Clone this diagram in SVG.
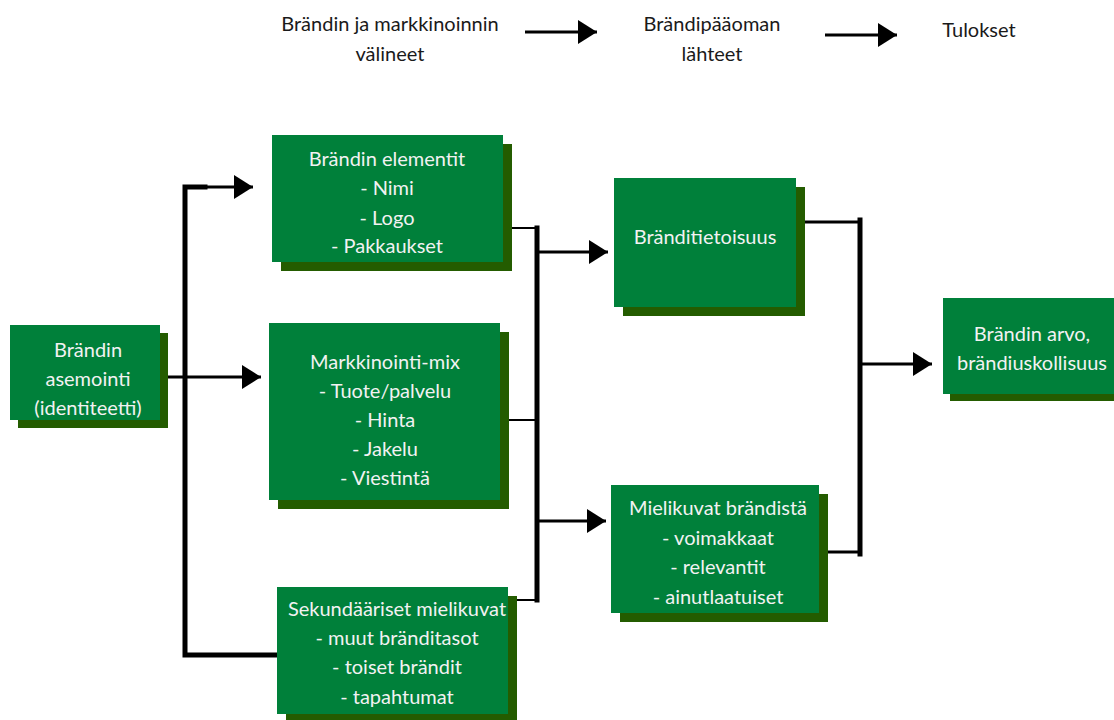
<svg xmlns="http://www.w3.org/2000/svg" width="1114" height="720" viewBox="0 0 1114 720">
  <style>
    .box { fill: #00803a; }
    .shadow { fill: #245c00; }
    .label { font-family: Lato, "Open Sans", sans-serif; font-size: 20px; fill: #f2f2f2; text-anchor: middle; }
    .head { font-family: Lato, "Open Sans", sans-serif; font-size: 20px; fill: #1a1a1a; text-anchor: middle; }
    .bus { stroke: #000; stroke-width: 5; fill: none; stroke-linecap: square; }
    .link { stroke: #000; stroke-width: 3; fill: none; }
    .stub { stroke: #000; stroke-width: 2; fill: none; }
  </style>
  <defs>
    <marker id="arrow" markerUnits="userSpaceOnUse" markerWidth="20" markerHeight="24" refX="19" refY="12" orient="auto">
      <path d="M0,0 L19,12 L0,24 Z" fill="#000"/>
    </marker>
  </defs>

  <rect width="1114" height="720" fill="#fff"/>

  <!-- column headings -->
  <g id="headings">
    <text class="head" x="390" y="31">Brändin ja markkinoinnin</text>
    <text class="head" x="390" y="61">välineet</text>
    <text class="head" x="712" y="31">Brändipääoman</text>
    <text class="head" x="712" y="61">lähteet</text>
    <text class="head" x="979" y="37">Tulokset</text>
    <line class="link" x1="525" y1="32" x2="597" y2="32" marker-end="url(#arrow)"/>
    <line class="link" x1="825" y1="35" x2="897" y2="35" marker-end="url(#arrow)"/>
  </g>

  <!-- connectors -->
  <g id="connectors">
    <!-- from positioning to the three instruments -->
    <polyline class="bus" points="275,655 185,655 185,187 205,187"/>
    <line class="link" x1="185" y1="187" x2="253" y2="187" marker-end="url(#arrow)"/>
    <line class="link" x1="160" y1="377" x2="261" y2="377" marker-end="url(#arrow)"/>
    <!-- instruments joined into the sources of brand equity -->
    <line class="stub" x1="503" y1="228" x2="537" y2="228"/>
    <line class="stub" x1="500" y1="420" x2="537" y2="420"/>
    <line class="stub" x1="508" y1="600" x2="537" y2="600"/>
    <line class="bus" x1="537" y1="228" x2="537" y2="600" stroke-linecap="butt"/>
    <line class="link" x1="537" y1="252" x2="608" y2="252" marker-end="url(#arrow)"/>
    <line class="link" x1="537" y1="521" x2="606" y2="521" marker-end="url(#arrow)"/>
    <!-- sources joined into the outcome -->
    <line class="link" x1="805" y1="222" x2="860" y2="222"/>
    <line class="link" x1="828" y1="552" x2="860" y2="552"/>
    <line class="bus" x1="860" y1="220" x2="860" y2="554" stroke-linecap="butt"/>
    <line class="link" x1="860" y1="364" x2="932" y2="364" marker-end="url(#arrow)"/>
  </g>

  <g id="node-asemointi">
    <rect class="shadow" x="18" y="333" width="150" height="95"/>
    <rect class="box" x="10" y="325" width="150" height="95"/>
    <text class="label" x="88" y="357">Brändin</text>
    <text class="label" x="88" y="386">asemointi</text>
    <text class="label" x="88" y="415">(identiteetti)</text>
  </g>

  <g id="node-elementit">
    <rect class="shadow" x="281" y="144" width="231" height="127"/>
    <rect class="box" x="272" y="135" width="231" height="127"/>
    <text class="label" x="387" y="166">Brändin elementit</text>
    <text class="label" x="387" y="195">- Nimi</text>
    <text class="label" x="387" y="225">- Logo</text>
    <text class="label" x="387" y="253">- Pakkaukset</text>
  </g>

  <g id="node-markkinointimix">
    <rect class="shadow" x="278" y="332" width="231" height="177"/>
    <rect class="box" x="269" y="323" width="231" height="177"/>
    <text class="label" x="385" y="369">Markkinointi-mix</text>
    <text class="label" x="385" y="398">- Tuote/palvelu</text>
    <text class="label" x="385" y="427">- Hinta</text>
    <text class="label" x="385" y="456">- Jakelu</text>
    <text class="label" x="385" y="485">- Viestintä</text>
  </g>

  <g id="node-sekundaariset">
    <rect class="shadow" x="286" y="596" width="231" height="127"/>
    <rect class="box" x="277" y="587" width="231" height="127"/>
    <text class="label" x="397" y="616">Sekundääriset mielikuvat</text>
    <text class="label" x="397" y="645">- muut bränditasot</text>
    <text class="label" x="397" y="674">- toiset brändit</text>
    <text class="label" x="397" y="704">- tapahtumat</text>
  </g>

  <g id="node-tietoisuus">
    <rect class="shadow" x="623" y="187" width="182" height="129"/>
    <rect class="box" x="614" y="178" width="182" height="129"/>
    <text class="label" x="705" y="244">Bränditietoisuus</text>
  </g>

  <g id="node-mielikuvat">
    <rect class="shadow" x="620" y="494" width="208" height="128"/>
    <rect class="box" x="611" y="485" width="208" height="128"/>
    <text class="label" x="718" y="515">Mielikuvat brändistä</text>
    <text class="label" x="718" y="545">- voimakkaat</text>
    <text class="label" x="718" y="574">- relevantit</text>
    <text class="label" x="718" y="604">- ainutlaatuiset</text>
  </g>

  <g id="node-arvo">
    <rect class="shadow" x="950" y="305" width="180" height="96"/>
    <rect class="box" x="943" y="298" width="180" height="96"/>
    <text class="label" x="1032" y="341">Brändin arvo,</text>
    <text class="label" x="1032" y="370">brändiuskollisuus</text>
  </g>
</svg>
